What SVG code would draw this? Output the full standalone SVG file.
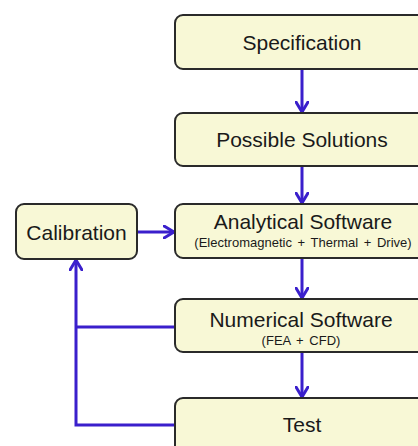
<svg xmlns="http://www.w3.org/2000/svg" width="418" height="446" viewBox="0 0 418 446">
  <style>
    .box { fill: #f8f8d6; stroke: #2a2a2a; stroke-width: 2; }
    .title { font-family: "Liberation Sans", Arial, sans-serif; font-size: 21px; fill: #1a1a1a; text-anchor: middle; }
    .sub { font-family: "Liberation Sans", Arial, sans-serif; font-size: 13px; fill: #1a1a1a; text-anchor: middle; word-spacing: 2px; }
    .link { fill: none; stroke: #3a1fcc; stroke-width: 3; }
  </style>
  <defs>
    <marker id="head" viewBox="0 0 12 14" refX="11" refY="7" markerWidth="12" markerHeight="14" markerUnits="userSpaceOnUse" orient="auto">
      <path d="M1,1 L11,7 L1,13" fill="none" stroke="#3a1fcc" stroke-width="3" stroke-linecap="round" stroke-linejoin="round"/>
    </marker>
  </defs>
  <rect width="418" height="446" fill="#ffffff"/>

  <g id="connectors">
    <line class="link" x1="302" y1="69" x2="302" y2="112" marker-end="url(#head)"/>
    <line class="link" x1="302" y1="166" x2="302" y2="203" marker-end="url(#head)"/>
    <line class="link" x1="302" y1="258" x2="302" y2="298" marker-end="url(#head)"/>
    <line class="link" x1="302" y1="352" x2="302" y2="397" marker-end="url(#head)"/>
    <line class="link" x1="137" y1="232" x2="174" y2="232" marker-end="url(#head)"/>
    <polyline class="link" points="175,425 76,425 76,260" marker-end="url(#head)"/>
    <line class="link" x1="76" y1="327" x2="175" y2="327"/>
  </g>

  <g id="specification">
    <rect class="box" x="175" y="15" width="256" height="54" rx="8"/>
    <text class="title" x="302" y="50">Specification</text>
  </g>
  <g id="possible-solutions">
    <rect class="box" x="175" y="113" width="256" height="53" rx="8"/>
    <text class="title" x="302" y="147">Possible Solutions</text>
  </g>
  <g id="analytical-software">
    <rect class="box" x="175" y="204" width="256" height="54" rx="8"/>
    <text class="title" x="303" y="229">Analytical Software</text>
    <text class="sub" x="303" y="247">(Electromagnetic + Thermal + Drive)</text>
  </g>
  <g id="numerical-software">
    <rect class="box" x="175" y="299" width="256" height="53" rx="8"/>
    <text class="title" x="301" y="327">Numerical Software</text>
    <text class="sub" x="301" y="345">(FEA + CFD)</text>
  </g>
  <g id="test">
    <rect class="box" x="175" y="398" width="256" height="60" rx="8"/>
    <text class="title" x="302" y="432">Test</text>
  </g>
  <g id="calibration">
    <rect class="box" x="16" y="204" width="121" height="55" rx="8"/>
    <text class="title" x="76.5" y="240">Calibration</text>
  </g>
</svg>
